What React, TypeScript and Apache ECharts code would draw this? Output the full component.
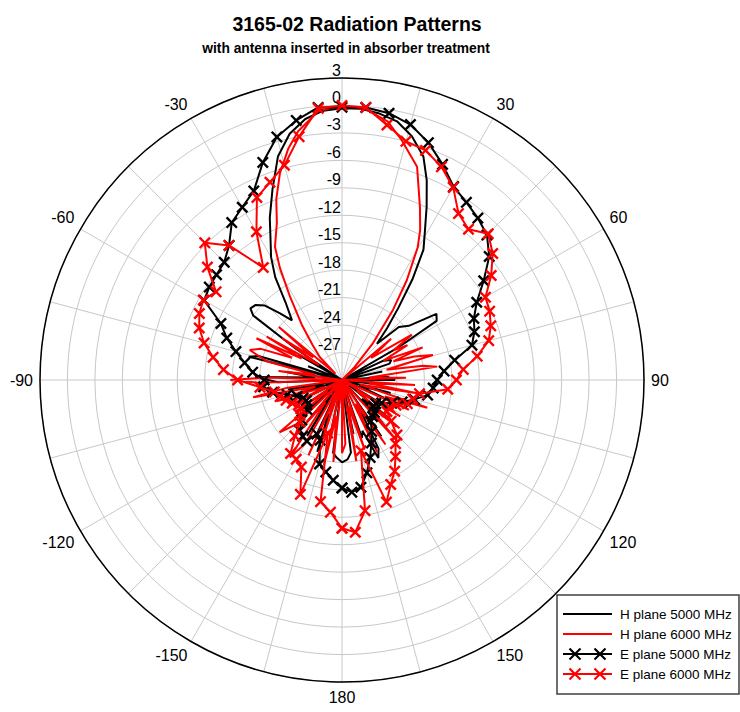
import React, { useEffect, useRef } from "react";
import * as echarts from "echarts";

const TITLE = "3165-02 Radiation Patterns";
const SUBTITLE = "with antenna inserted in absorber treatment";
const SERIES_NAMES = ["H plane 5000 MHz", "H plane 6000 MHz", "E plane 5000 MHz", "E plane 6000 MHz"];
const SERIES_COLORS = ["#000000", "#ff0000", "#000000", "#ff0000"];

const RADIUS_MIN = -30;
const RADIUS_MAX = 3;
const RADIUS_STEP = 3;
const ANGLE_LABELS = [30, 60, 90, 120, 150, 180, -150, -120, -90, -60, -30];

// [angle (deg, clockwise from top), level (dB)]
const hPlane5000: [number, number][] = [
  [-180, -21], [-176, -21.5], [-173, -22], [-171, -30], [-168, -24], [-165, -30], [-161, -21.7], [-158, -26],
  [-155, -23], [-152, -30], [-148, -22.8], [-144, -28], [-140, -23.5], [-136, -30], [-132, -24], [-128, -29],
  [-124, -25], [-120, -30], [-116, -26], [-112, -30], [-108, -25], [-104, -28], [-100, -24], [-96, -30],
  [-92, -23], [-88, -20.5], [-85, -27], [-82, -24], [-79, -30], [-76, -19.5], [-74, -20.5], [-72, -30],
  [-68, -26], [-64, -30], [-60, -24.5], [-58, -30], [-56, -24], [-54, -18], [-52, -17.3], [-49, -17.5],
  [-46, -18.3], [-43, -20], [-40, -21.5], [-36, -19.5], [-33, -16.6], [-30, -14.5], [-27, -12.8], [-24, -10.6],
  [-20, -7.8], [-16, -4.6], [-12, -2.5], [-8, -1.2], [-4, -0.5], [0, -0.3], [4, -0.3], [8, -0.6],
  [12, -1.1], [16, -2.3], [20, -4.0], [23, -6.3], [26, -8.9], [29, -11.3], [32, -13.2], [35, -16.6],
  [38, -20], [41, -22.5], [44, -24.5], [47, -21.5], [51, -20.6], [55, -17.4], [58, -17.8], [60, -23],
  [62, -30], [65, -25], [68, -24.2], [71, -24.5], [74, -30], [78, -25.5], [82, -30], [86, -25],
  [90, -24.2], [93, -30], [97, -26], [101, -30], [105, -24.5], [109, -28], [113, -25], [117, -30],
  [121, -24], [125, -29], [129, -23.5], [133, -27], [137, -23], [141, -30], [145, -22.5], [149, -26],
  [152, -21.5], [155, -20.6], [158, -24], [161, -23.3], [164, -30], [168, -24], [171, -30], [173, -22],
  [176, -21.3], [180, -21],
];

const hPlane6000: [number, number][] = [
  [-180, -22], [-177, -30], [-174, -21], [-171, -26], [-168, -20.5], [-165, -30], [-162, -23], [-159, -28],
  [-156, -21], [-153, -30], [-150, -22], [-146, -19.8], [-143, -27], [-140, -22.5], [-137, -30], [-134, -23],
  [-130, -21.1], [-127, -28], [-124, -24], [-120, -30], [-116, -23.5], [-112, -28], [-108, -22.5], [-104, -27],
  [-101, -20.1], [-98, -24], [-95, -30], [-92, -21], [-90, -17.8], [-88, -22], [-85, -30], [-82, -23],
  [-79, -27], [-76, -21.5], [-72, -19.4], [-69, -20.5], [-66, -24], [-64, -19.6], [-62, -25], [-60, -20.5],
  [-57, -27], [-55, -22], [-52, -26], [-50, -21], [-48, -28], [-46, -29], [-44, -26.5], [-40, -25],
  [-36, -22.5], [-32, -19.3], [-29, -16], [-26.7, -13.7], [-22.5, -11.4], [-20, -9], [-16.7, -6.4], [-13, -4],
  [-10, -2.4], [-5, -0.5], [0, 0], [5, -0.3], [10, -1.3], [14, -3], [19.4, -5.3], [24.3, -9.3],
  [27.5, -11.5], [29.7, -13.3], [33, -17], [36, -20.5], [40, -24.7], [44, -28], [47, -30], [50, -23],
  [53, -26], [57, -20.9], [60, -23.5], [62, -21.9], [65, -25], [68, -20.5], [70, -24], [72, -21.7],
  [74.6, -19.7], [77, -25], [80, -21], [82, -19.5], [85, -27], [88, -23], [91, -30], [94, -22],
  [97, -27], [100, -21.5], [104, -28], [108, -20.2], [111, -25], [114, -22], [118, -30], [122, -22.5],
  [126, -28], [130, -21.8], [134, -26], [138, -20.9], [142, -30], [146, -21.5], [150, -27], [154, -21.2],
  [158, -30], [162, -22], [166, -27], [170, -21], [174, -30], [177, -23], [180, -22],
];

const eAngles = [
  -180, -175, -170, -165, -160, -155, -150, -145, -140, -135, -130, -125, -120, -115, -110, -105, -100, -95,
  -90, -85, -80, -75, -70, -65, -60, -55, -50, -45, -40, -35, -30, -25, -20, -15, -10, -5,
  0, 5, 10, 15, 20, 25, 30, 35, 40, 45, 50, 55, 60, 65, 70, 75, 80, 85,
  90, 95, 100, 105, 110, 115, 120, 125, 130, 135, 140, 145, 150, 155, 160, 165, 170, 175, 180,
];

const ePlane5000 = [
  -18.2, -19.0, -19.8, -20.5, -23.0, -23.5, -22.3, -22.5, -22.8, -23.8, -25.0, -25.3, -25.5, -25.3, -24.8, -23.8, -22.3, -21.4,
  -21.5, -20.2, -19.2, -18.0, -16.6, -15.4, -12.6, -12.3, -12.1, -11.8, -10.8, -9.0, -8.2, -7.2, -4.7, -2.5, -1.2, -0.1,
  -0.2, -0.1, -0.4, -1.1, -2.4, -4.0, -5.6, -6.3, -6.9, -7.6, -9.0, -11.1, -13.0, -14.1, -14.6, -15.3, -17.5, -18.8,
  -19.6, -20.0, -20.5, -21.8, -23.0, -24.0, -25.0, -25.5, -25.5, -25.0, -24.8, -24.5, -23.5, -22.4, -21.0, -19.5, -18.1, -17.7, -18.2,
];

const ePlane6000 = [
  -13.8, -15.5, -16.5, -24.0, -16.7, -19.5, -20.0, -20.2, -22.0, -23.5, -24.0, -24.5, -24.5, -24.0, -23.5, -23.0, -22.5, -21.0,
  -18.6, -17.0, -15.7, -14.4, -13.4, -12.8, -12.5, -13.2, -10.8, -8.8, -10.8, -15.0, -11.3, -8.0, -7.0, -5.7, -3.0, -0.2,
  0.0, -0.1, -1.7, -3.0, -3.3, -4.3, -5.7, -7.8, -8.5, -7.4, -8.5, -10.1, -11.9, -12.2, -12.7, -13.4, -15.0, -16.7,
  -17.5, -18.4, -21.4, -22.0, -22.4, -23.5, -24.0, -24.0, -23.0, -21.5, -20.9, -19.8, -18.5, -17.4, -15.8, -22.0, -15.5, -13.3, -13.8,
];

const FONT = "'Liberation Sans', Arial, Helvetica, sans-serif";
const X_SYMBOL =
  "path://M0,1.4L1.4,0L5,3.6L8.6,0L10,1.4L6.4,5L10,8.6L8.6,10L5,6.4L1.4,10L0,8.6L3.6,5Z";

const toPolar = (pairs: [number, number][]) =>
  pairs.map(([a, v]) => [v, a < 0 ? a + 360 : a]);

export default function App() {
  const ref = useRef<HTMLDivElement>(null);

  useEffect(() => {
    if (!ref.current) return;
    const chart = echarts.init(ref.current, undefined, { renderer: "svg" });

    const ePairs5000: [number, number][] = eAngles.map((a, i) => [a, ePlane5000[i]]);
    const ePairs6000: [number, number][] = eAngles.map((a, i) => [a, ePlane6000[i]]);
    const seriesData = [hPlane5000, hPlane6000, ePairs5000, ePairs6000];

    const legendGraphics: any[] = [
      {
        type: "rect",
        shape: { x: 557, y: 595, width: 182, height: 99 },
        style: { fill: "#ffffff", stroke: "#404040", lineWidth: 1.5 },
        z: 100,
      },
    ];
    SERIES_NAMES.forEach((name, i) => {
      const cy = 614 + i * 20;
      legendGraphics.push({
        type: "line",
        shape: { x1: 563, y1: cy, x2: 612, y2: cy },
        style: { stroke: SERIES_COLORS[i], lineWidth: 2 },
        z: 101,
      });
      if (i >= 2) {
        [575, 600].forEach((cx) => {
          legendGraphics.push({
            type: "line",
            shape: { x1: cx - 5.5, y1: cy - 5.5, x2: cx + 5.5, y2: cy + 5.5 },
            style: { stroke: SERIES_COLORS[i], lineWidth: 2.2 },
            z: 101,
          });
          legendGraphics.push({
            type: "line",
            shape: { x1: cx - 5.5, y1: cy + 5.5, x2: cx + 5.5, y2: cy - 5.5 },
            style: { stroke: SERIES_COLORS[i], lineWidth: 2.2 },
            z: 101,
          });
        });
      }
      legendGraphics.push({
        type: "text",
        x: 620,
        y: cy,
        style: {
          text: name,
          fill: "#000",
          font: `13.5px ${FONT}`,
          textVerticalAlign: "middle",
          verticalAlign: "middle",
        },
        z: 101,
      });
    });

    chart.setOption({
      animation: false,
      backgroundColor: "#ffffff",
      title: [
        {
          text: TITLE,
          left: 352,
          top: 9,
          textAlign: "center",
          textStyle: { fontSize: 19.5, fontWeight: "bold", color: "#000", fontFamily: FONT },
        },
        {
          text: SUBTITLE,
          left: 341,
          top: 36,
          textAlign: "center",
          textStyle: { fontSize: 13.8, fontWeight: "bold", color: "#000", fontFamily: FONT },
        },
      ],
      polar: { center: [342, 380], radius: 302 },
      angleAxis: {
        type: "value",
        min: 0,
        max: 360,
        interval: 15,
        startAngle: 90,
        clockwise: true,
        axisLine: { show: true, lineStyle: { color: "#000", width: 1.5 } },
        axisTick: { show: false },
        axisLabel: {
          fontSize: 16,
          color: "#000",
          fontFamily: FONT,
          margin: 7,
          formatter: (v: number) => {
            const a = v > 180 ? v - 360 : v;
            return ANGLE_LABELS.indexOf(a) >= 0 ? String(a) : "";
          },
        },
        splitLine: { show: true, lineStyle: { color: "#c8c8c8", width: 1 } },
      },
      radiusAxis: {
        type: "value",
        min: RADIUS_MIN,
        max: RADIUS_MAX,
        interval: RADIUS_STEP,
        axisLine: { show: false },
        axisTick: { show: false },
        axisLabel: {
          showMinLabel: false,
          fontSize: 16,
          color: "#000",
          fontFamily: FONT,
          margin: 1,
          align: "right",
          verticalAlign: "bottom",
        },
        splitLine: { show: true, lineStyle: { color: "#c8c8c8", width: 1 } },
      },
      series: SERIES_NAMES.map((name, i) => ({
        name,
        type: "line",
        coordinateSystem: "polar",
        data: toPolar(seriesData[i]),
        symbol: i >= 2 ? X_SYMBOL : "none",
        symbolSize: 12,
        showSymbol: i >= 2,
        showAllSymbol: true,
        lineStyle: { color: SERIES_COLORS[i], width: 2 },
        itemStyle: { color: SERIES_COLORS[i] },
        z: 2 + i,
      })),
      graphic: legendGraphics,
    });

    return () => chart.dispose();
  }, []);

  return (
    <div
      ref={ref}
      style={{ position: "fixed", left: 0, top: 0, width: 740, height: 712, background: "#fff" }}
    />
  );
}
